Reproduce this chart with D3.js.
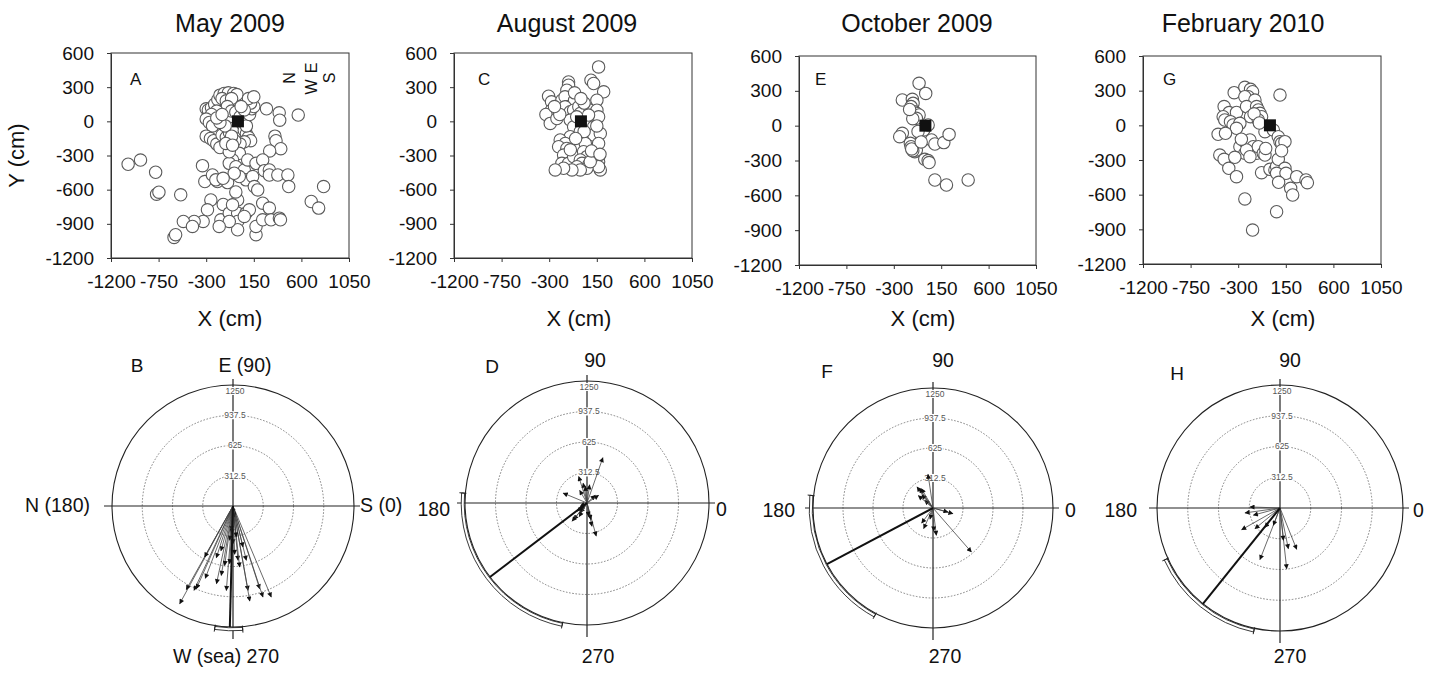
<!DOCTYPE html>
<html><head><meta charset="utf-8">
<script src="https://cdn.jsdelivr.net/npm/d3@7"></script>
<style>body{margin:0;background:#fff} text{font-family:Arial,"Liberation Sans",sans-serif;fill:#111}</style>
</head><body><svg id="c" width="1429" height="673"></svg>
<script>
// ---------- data ----------
const xTicks = [-1200, -750, -300, 150, 600, 1050];
const yTicks = [600, 300, 0, -300, -600, -900, -1200];
const ringTicks = [312.5, 625, 937.5, 1250];
const titles = ["May 2009", "August 2009", "October 2009", "February 2010"];
const scatterLetters = ["A", "C", "E", "G"];
const polarLetters = ["B", "D", "F", "H"];

const pointsMay = [
 [-300,110],[-280,100],[-250,120],[-220,150],[-190,190],[-170,230],[-130,245],[-90,250],[-40,245],[-10,235],
 [-150,200],[-110,180],[-60,200],[-100,130],[-60,90],[-20,80],[-200,90],[-250,60],[-300,20],[-270,-10],
 [-240,-40],[-300,-130],[-260,-150],[-230,-170],[-200,-200],[-170,-230],[-150,-120],[-110,-140],[-80,-100],[-40,-60],
 [-120,-40],[-170,-10],[-200,30],[-150,60],[20,40],[40,-20],[60,-80],[80,-110],[100,-140],[120,-170],
 [60,-180],[20,-200],[-30,-170],[-60,-130],[80,-40],[110,60],[130,110],[150,130],[120,160],[100,200],
 [60,100],[30,130],[150,215],[270,110],[390,75],[395,10],[570,55],[350,-130],[360,-170],[405,-240],[300,-260],
 [13,-281],[-51,-339],[-82,-369],[-19,-398],[60,-427],[76,-514],[139,-485],[155,-573],[187,-602],[92,-339],
 [171,-369],[234,-339],[250,-433],[297,-427],[297,-471],[377,-471],[472,-471],[480,-573],[-335,-389],[-313,-529],
 [-193,-529],[-241,-471],[-98,-538],[13,-485],[-35,-456],[-82,-267],[-114,-194],[-51,-209],[-209,-514],[-140,-500],
 [-256,-690],[-288,-777],[-329,-879],[-414,-879],[-516,-879],[-430,-923],[-604,-1019],[-589,-995],[-161,-865],[-139,-730],
 [-82,-806],[-3,-806],[76,-806],[-3,-690],[-3,-879],[-3,-952],[-51,-733],[171,-995],[171,-923],[234,-865],
 [234,-719],[297,-762],[313,-865],[392,-850],[402,-865],[-82,-879],[-177,-923],[108,-777],[60,-835],[-20,-620],
 [-1038,-377],[-921,-340],[-778,-447],[-769,-640],[-747,-622],[-541,-645],[693,-704],[763,-762],[810,-573]
];
const pointsAug = [
 [167,478],[95,361],[120,332],[215,259],[-117,346],[-117,317],[-133,273],[-306,221],[-278,171],[-278,98],
 [-331,60],[-290,-18],[-180,186],[-150,215],[-133,127],[-60,186],[-150,127],[-227,25],[-101,84],[-69,98],
 [-20,127],[-6,69],[88,98],[151,186],[151,98],[167,40],[72,55],[120,-48],[-101,11],[-69,-48],
 [-101,-135],[-6,-90],[120,-120],[183,-106],[167,-194],[-196,-164],[-148,-194],[-211,-223],[-133,-238],[-164,-296],
 [-180,-369],[-117,-369],[-69,-310],[41,-194],[25,-267],[57,-310],[-6,-339],[10,-369],[-38,-398],[72,-383],
 [120,-369],[151,-325],[167,-354],[183,-427],[167,-398],[57,-412],[-6,-427],[-85,-427],[-164,-412],[-243,-427],
 [88,-354],[-40,40],[30,160],[-60,250],[-200,60],[-250,130],[150,-40],[100,-260],[-100,-250],[30,-90],
 [-50,-150],[180,-290],[0,200]
];
const pointsOct = [
 [-60,365],[3,278],[-219,221],[-124,227],[-117,192],[-136,164],[-105,120],[-86,106],[-101,83],[-60,92],
 [-86,63],[-219,-66],[-244,-95],[-143,-152],[-136,-181],[-101,-224],[-86,-210],[-38,-95],[-16,-37],[26,6],
 [58,-123],[90,-158],[175,-146],[225,-75],[-6,-290],[26,-301],[35,-318],[90,-468],[200,-511],[406,-468],
 [-120,-215],[-130,-200],[-70,-50],[-120,60],[-150,140],[-40,-140]
];
const pointsFeb = [
 [-338,283],[-237,329],[-183,312],[-164,291],[-205,248],[-237,248],[-142,219],[95,262],[-433,162],[-386,110],
 [-316,112],[-442,75],[-427,46],[-373,32],[-348,3],[-284,17],[-316,-26],[-490,-78],[-420,-69],[-221,162],
 [-183,75],[-126,162],[-110,133],[-94,104],[-79,75],[-110,46],[-47,-55],[32,-40],[79,-98],[95,-141],
 [111,-156],[142,-141],[-284,-185],[-237,-141],[-189,-127],[-158,-185],[-126,-242],[-110,-185],[-63,-242],[-47,-257],
 [-237,-242],[-221,-213],[-189,-271],[-474,-257],[-433,-294],[-332,-277],[-389,-372],[-316,-444],[-79,-410],[0,-381],
 [47,-386],[63,-357],[79,-294],[142,-372],[63,-415],[152,-415],[253,-444],[196,-545],[215,-603],[341,-473],
 [354,-496],[82,-493],[-237,-637],[63,-747],[-164,-906],[-150,100],[-100,20],[-270,-120],[-40,-200],[110,-220]
];

// vectors: [angle in degrees (0 = right, counter-clockwise), length in cm]
const vectorsMay = [
 [241.4,1150],[240.8,989],[245.2,960],[246.1,934],[240.9,603],[252.1,561],[260.4,727],[265.5,875],[264.5,356],[268,286],
 [275.3,564],[276.2,634],[283.8,578],[280.1,885],[280,997],[287.9,898],[288.2,990],[292.8,1020],[278,115],[270,79],
 [266,252],[270,389],[276,322],[283.7,436],[266.7,597],[255,480],[262,620],[272,500],[249,800],[258,820]
];
const vectorsAug = [
 [70.7,492],[107.4,284],[101,207],[157.4,264],[42.6,115],[33.3,142],[81.7,188],[95.7,171],[285.6,352],[282,243],
 [283.5,174],[231.3,217],[230.7,241],[219.8,132],[206,76],[277,137],[225,100],[235,120],[215,90],[240,160],[120,150]
];
const vectorsOct = [
 [311.1,608],[98.4,355],[127.3,275],[121,235],[137,118],[130,180],[344,216],[345,162],[245.7,236],[233,196],
 [277,287],[272,240],[125,250],[140,200],[255,120]
];
const vectorsFeb = [
 [178,305],[188,359],[209.5,448],[219.6,330],[248.8,563],[276.3,620],[281.6,422],[292,453],[249,189],[276,330],
 [195,280],[232,250]
];
const meanAngles = [268.5, 217.3, 207.9, 231.2];
const ciRanges = [[261.5,274.5],[175.4,258.5],[174.1,241.6],[204.2,258]];
const polarAxisLabels = [
 {top:"E (90)", left:"N (180)", right:"S (0)", bottom:"W (sea) 270"},
 {top:"90", left:"180", right:"0", bottom:"270"},
 {top:"90", left:"180", right:"0", bottom:"270"},
 {top:"90", left:"180", right:"0", bottom:"270"}
];
const compass = ["N","E","W","S"];

// ---------- layout ----------
const svg = d3.select("#c");
svg.append("rect").attr("width",1429).attr("height",673).attr("fill","#fff");

const scatterLayout = [
 {x0:111, x1:349, y0:53, y1:258, tx:230, lx:130, xl:230},
 {x0:454, x1:692, y0:53, y1:258, tx:567, lx:478, xl:579},
 {x0:799, x1:1036, y0:56, y1:265, tx:917, lx:815, xl:923},
 {x0:1143, x1:1381, y0:56, y1:264, tx:1243, lx:1163, xl:1283}
];
const polarLayout = [
 {cx:233, cy:506, R:121, topX:245, letterX:137, topY:372, letterY:372, leftX:90, rightX:360, sideY:512, botX:226},
 {cx:587, cy:503, R:122, topX:595, letterX:492, topY:367, letterY:373, leftX:450, rightX:716, sideY:516, botX:598},
 {cx:933, cy:508, R:120, topX:943, letterX:827, topY:367, letterY:378, leftX:795, rightX:1065, sideY:517, botX:945},
 {cx:1280, cy:508, R:123, topX:1290, letterX:1177, topY:367, letterY:380, leftX:1137, rightX:1413, sideY:517, botX:1290}
];
const scatterData = [pointsMay, pointsAug, pointsOct, pointsFeb];
const vectorData = [vectorsMay, vectorsAug, vectorsOct, vectorsFeb];

// arrow marker
svg.append("defs").append("marker").attr("id","ah")
  .attr("viewBox","0 0 10 10").attr("refX",9).attr("refY",5)
  .attr("markerUnits","userSpaceOnUse").attr("markerWidth",6).attr("markerHeight",5)
  .attr("orient","auto")
  .append("path").attr("d","M0,0 L10,5 L0,10 Z").attr("fill","#111");

const fmt = d => String(d);

scatterLayout.forEach((L, i) => {
  const x = d3.scaleLinear().domain([-1200,1050]).range([L.x0, L.x1]);
  const y = d3.scaleLinear().domain([-1200,600]).range([L.y1, L.y0]);
  const g = svg.append("g");
  const xa = g.append("g").attr("transform",`translate(0,${L.y1})`)
    .call(d3.axisBottom(x).tickValues(xTicks).tickSize(4).tickSizeOuter(0).tickPadding(13).tickFormat(fmt));
  const ya = g.append("g").attr("transform",`translate(${L.x0},0)`)
    .call(d3.axisLeft(y).tickValues(yTicks).tickSize(4).tickSizeOuter(0).tickPadding(13).tickFormat(fmt));
  [xa, ya].forEach(a => {
    a.selectAll("text").attr("font-size",19).attr("font-family","Arial, 'Liberation Sans', sans-serif").attr("fill","#111");
    a.selectAll("line,path").attr("stroke","#333");
  });
  g.append("rect").attr("x",L.x0).attr("y",L.y0).attr("width",L.x1-L.x0).attr("height",L.y1-L.y0)
    .attr("fill","none").attr("stroke","#333").attr("stroke-width",1);
  g.append("g").selectAll("circle").data(scatterData[i]).join("circle")
    .attr("cx", d => x(d[0])).attr("cy", d => y(d[1])).attr("r", 6.2)
    .attr("fill","#fff").attr("stroke","#5a5a5a").attr("stroke-width",1.1);
  g.append("rect").attr("x", x(0)-6).attr("y", y(0)-6).attr("width",12).attr("height",12).attr("fill","#111");
  g.append("text").attr("x",L.tx).attr("y",32).attr("text-anchor","middle").attr("font-size",25).text(titles[i]);
  g.append("text").attr("x",L.lx).attr("y",85).attr("font-size",17).text(scatterLetters[i]);
  g.append("text").attr("x",L.xl).attr("y",326).attr("text-anchor","middle").attr("font-size",22).text("X (cm)");
  if (i === 0) {
    g.append("text").attr("transform",`translate(24,${(L.y0+L.y1)/2}) rotate(-90)`)
      .attr("text-anchor","middle").attr("font-size",22).text("Y  (cm)");
    const cpos = [[290,78],[312,68],[312,87],[330,78]];
    compass.forEach((c, k) => {
      g.append("text").attr("transform",`translate(${cpos[k][0]+5},${cpos[k][1]}) rotate(-90)`)
        .attr("text-anchor","middle").attr("font-size",16).text(c);
    });
  }
});

polarLayout.forEach((P, i) => {
  const r = d3.scaleLinear().domain([0,1250]).range([0,P.R]);
  const rad = a => a * Math.PI / 180;
  const pt = (a, len) => [P.cx + r(len)*Math.cos(rad(a)), P.cy - r(len)*Math.sin(rad(a))];
  const g = svg.append("g");
  // rings
  g.selectAll("circle.ring").data(ringTicks.slice(0,3)).join("circle")
    .attr("cx",P.cx).attr("cy",P.cy).attr("r", d => r(d))
    .attr("fill","none").attr("stroke","#666").attr("stroke-width",0.8).attr("stroke-dasharray","1.6,1.6");
  g.append("circle").attr("cx",P.cx).attr("cy",P.cy).attr("r",r(1250))
    .attr("fill","none").attr("stroke","#222").attr("stroke-width",1.1);
  // axes
  g.append("line").attr("x1",P.cx-P.R-8).attr("x2",P.cx+P.R+6).attr("y1",P.cy).attr("y2",P.cy).attr("stroke","#222").attr("stroke-width",1.2);
  g.append("line").attr("x1",P.cx).attr("x2",P.cx).attr("y1",P.cy-P.R-6).attr("y2",P.cy+P.R+12).attr("stroke","#222").attr("stroke-width",1.2);
  // ring labels
  ringTicks.forEach(v => {
    const yy = v === 1250 ? P.cy - r(v) + 6 : P.cy - r(v);
    const t = g.append("text").attr("x",P.cx+2).attr("y",yy).attr("dy","0.35em")
      .attr("text-anchor","middle").attr("font-size",8.5).attr("fill","#555").style("fill","#555").text(fmt(v));
    const bb = t.node().getBBox();
    g.insert("rect", () => t.node()).attr("x",bb.x-0.5).attr("y",bb.y+1).attr("width",bb.width+1).attr("height",bb.height-2).attr("fill","#fff");
  });
  // vectors
  g.append("g").selectAll("line").data(vectorData[i]).join("line")
    .attr("x1",P.cx).attr("y1",P.cy)
    .attr("x2", d => pt(d[0], d[1])[0]).attr("y2", d => pt(d[0], d[1])[1])
    .attr("stroke","#444").attr("stroke-width",0.8).attr("marker-end","url(#ah)");
  // mean vector
  const m = pt(meanAngles[i], 1250);
  g.append("line").attr("x1",P.cx).attr("y1",P.cy).attr("x2",m[0]).attr("y2",m[1])
    .attr("stroke","#111").attr("stroke-width",2);
  // CI band
  const ci = ciRanges[i];
  const arc = d3.arc().innerRadius(P.R+0.8).outerRadius(P.R+3.8)
    .startAngle(rad(90-ci[0])).endAngle(rad(90-ci[1]));
  g.append("path").attr("transform",`translate(${P.cx},${P.cy})`).attr("d",arc())
    .attr("fill","#fff").attr("stroke","#222").attr("stroke-width",0.9);
  ci.forEach(a => {
    const p1 = [P.cx + (P.R-1)*Math.cos(rad(a)), P.cy - (P.R-1)*Math.sin(rad(a))];
    const p2 = [P.cx + (P.R+6)*Math.cos(rad(a)), P.cy - (P.R+6)*Math.sin(rad(a))];
    g.append("line").attr("x1",p1[0]).attr("y1",p1[1]).attr("x2",p2[0]).attr("y2",p2[1]).attr("stroke","#222").attr("stroke-width",1);
  });
  // labels
  const lab = polarAxisLabels[i];
  g.append("text").attr("x",P.topX).attr("y",P.topY).attr("text-anchor","middle").attr("font-size",19.5).text(lab.top);
  g.append("text").attr("x",P.letterX).attr("y",P.letterY).attr("text-anchor","middle").attr("font-size",19).text(polarLetters[i]);
  g.append("text").attr("x",P.leftX).attr("y",P.sideY).attr("text-anchor","end").attr("font-size",19.5).text(lab.left);
  g.append("text").attr("x",P.rightX).attr("y",P.sideY).attr("text-anchor","start").attr("font-size",19.5).text(lab.right);
  g.append("text").attr("x",P.botX).attr("y",663).attr("text-anchor","middle").attr("font-size",19.5).text(lab.bottom);
});
</script></body></html>
